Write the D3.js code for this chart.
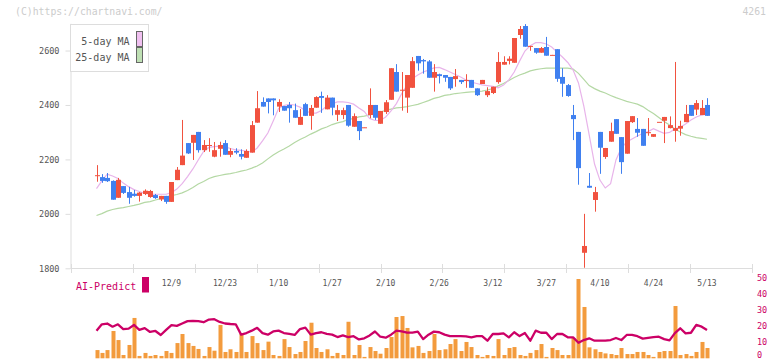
<!DOCTYPE html>
<html>
<head>
<meta charset="utf-8">
<script src="https://cdn.jsdelivr.net/npm/d3@7"></script>
<style>
  body { margin: 0; background: #fff; }
  text { font-family: "DejaVu Sans Mono", monospace; }
</style>
</head>
<body>
<div id="chart"></div>
<script>
// daily candles, 2024/11/19 .. 2025/5/13 (index 0..114)
const open = [2140,2135,2132,2121,2059,2102,2080,2074,2066,2073,2062,2069,2053,2066,2044,2124,2179,2260,2261,2301,2234,2252,
  2210,2239,2260,2217,2231,2220,2206,2225,2335,2411,2424,2424,2394,2396,2400,2381,2327,2403,2360,2390,2433,2384,2427,2364,2363,2400,2320,2341,2317,2363,2400,2331,2374,2419,2521,2455,2427,2463,2580,2565,2560,2500,2513,2510,2503,2495,2492,2491,2492,2461,2477,2436,2444,2484,2548,2562,2555,2657,2690,2616,2609,2592,2613,2583,2605,2503,2473,2363,2301,1857,2103,2051,2301,2209,2265,2348,2282,2221,2337,2312,2312,2299,2283,2337,2342,2315,2305,2313,2337,2400,2383,2363,2400];
const high = [2179,2146,2150,2123,2132,2102,2099,2088,2080,2090,2088,2073,2066,2066,2117,2172,2345,2260,2290,2301,2271,2278,
  2264,2265,2271,2241,2241,2237,2237,2341,2451,2428,2424,2424,2421,2396,2411,2405,2385,2408,2400,2432,2449,2436,2427,2400,2390,2400,2369,2341,2318,2461,2400,2378,2418,2535,2550,2521,2510,2576,2580,2569,2565,2550,2515,2510,2503,2532,2492,2513,2492,2461,2492,2465,2467,2594,2579,2579,2646,2690,2697,2617,2609,2613,2650,2584,2605,2535,2477,2400,2301,2000,2150,2099,2301,2242,2335,2348,2282,2341,2359,2352,2312,2352,2293,2337,2356,2358,2558,2342,2400,2400,2418,2418,2425];
const low = [2118,2114,2117,2052,2059,2073,2037,2063,2045,2069,2059,2055,2047,2037,2044,2124,2179,2220,2198,2225,2227,2228,
  2208,2210,2217,2208,2219,2200,2206,2225,2335,2394,2369,2362,2374,2379,2335,2353,2327,2360,2309,2390,2371,2384,2362,2341,2348,2320,2320,2271,2317,2351,2345,2331,2367,2419,2449,2379,2371,2463,2526,2515,2500,2449,2479,2485,2455,2467,2477,2463,2463,2433,2477,2429,2440,2478,2548,2549,2555,2643,2614,2599,2588,2592,2581,2583,2485,2430,2430,2271,2107,1802,2096,2008,2147,2202,2265,2294,2147,2221,2334,2283,2250,2287,2283,2337,2260,2314,2265,2287,2337,2360,2363,2363,2360];
const close = [2142,2121,2120,2052,2125,2077,2059,2066,2078,2085,2084,2058,2066,2044,2117,2162,2214,2222,2290,2234,2253,2253,
  2234,2253,2217,2231,2225,2210,2231,2326,2388,2394,2411,2417,2411,2379,2388,2353,2356,2360,2389,2429,2426,2427,2390,2381,2381,2324,2359,2304,2318,2400,2353,2378,2410,2535,2449,2456,2510,2561,2553,2560,2500,2521,2506,2500,2461,2506,2484,2492,2463,2436,2492,2451,2467,2558,2558,2570,2646,2679,2614,2617,2592,2609,2581,2584,2496,2478,2433,2348,2168,1882,2096,2080,2243,2242,2304,2294,2190,2341,2359,2298,2250,2300,2293,2338,2356,2326,2315,2323,2367,2360,2407,2389,2360];

const ma5 = [2093,2121,2146,2139,2130,2113,2100,2089,2082,2075,2072,2072,2072,2072,2078,2091,2111,2137,2165,2198,2229,2244,
  2247,2249,2246,2240,2235,2233,2231,2227,2242,2268,2297,2341,2387,2398,2402,2400,2392,2380,2370,2370,2380,2396,2405,2411,2411,2409,2403,2389,2376,2350,2343,2343,2356,2378,2405,2442,2473,2497,2510,2521,2528,2536,2538,2530,2521,2512,2503,2492,2484,2479,2474,2471,2468,2463,2473,2492,2521,2561,2598,2618,2629,2629,2624,2613,2594,2576,2556,2528,2481,2396,2290,2183,2124,2095,2111,2198,2242,2264,2275,2286,2295,2302,2313,2304,2296,2299,2312,2318,2330,2345,2356,2363,2367];
const ma25 = [1994,2001,2010,2016,2020,2023,2027,2031,2036,2042,2045,2051,2056,2062,2067,2071,2077,2086,2097,2110,2119,2130,
  2137,2141,2145,2148,2152,2157,2161,2168,2176,2187,2202,2216,2228,2238,2249,2262,2273,2282,2293,2302,2312,2319,2328,2334,2339,2347,2350,2356,2359,2363,2369,2374,2380,2385,2389,2391,2394,2398,2402,2409,2416,2424,2429,2435,2438,2442,2444,2446,2448,2449,2451,2455,2460,2470,2479,2490,2501,2510,2517,2525,2530,2533,2535,2535,2535,2535,2535,2532,2516,2494,2471,2460,2451,2444,2435,2427,2420,2413,2408,2403,2394,2381,2369,2354,2339,2326,2312,2301,2291,2285,2280,2277,2274];

const volume = [4.8,3.0,4.8,16.8,11.1,1.7,8.0,25.0,1.1,3.0,1.1,1.7,1.1,4.2,3.0,9.2,14.9,9.2,7.4,5.5,1.1,6.7,
  4.4,20.6,3.6,5.3,3.6,14.9,3.6,13.6,9.2,4.8,10.1,1.7,1.1,11.7,6.7,2.3,3.6,10.5,22.0,6.1,3.6,5.3,1.1,3.0,1.7,22.6,1.7,8.0,0.5,6.7,4.2,2.5,6.1,13.0,25.6,26.2,18.7,6.5,7.4,3.0,4.2,14.9,4.8,5.3,8.6,11.7,4.2,9.9,6.7,1.7,0.5,1.7,1.1,11.7,1.7,6.1,6.7,1.7,1.1,3.0,4.8,8.6,0.5,6.1,4.8,1.7,1.7,12.4,49.5,31.9,6.5,5.3,3.6,2.7,2.3,1.7,6.1,2.3,2.3,3.6,3.6,1.7,0.5,3.6,4.2,4.2,32.5,1.7,2.3,1.1,3.6,9.9,6.1];
const aiPredict = [17.0,21.0,21.5,19.5,21.0,18.0,18.3,20.6,17.5,18.6,16.2,16.8,14.3,17.5,20.5,20.0,21.5,23.0,23.2,23.0,22.3,24.0,
  24.2,22.5,21.5,21.2,21.0,14.5,15.5,17.0,18.8,15.5,14.5,16.5,17.0,15.5,15.0,14.3,18.0,18.9,14.5,15.5,16.0,15.0,14.5,13.0,14.0,13.0,13.5,11.5,12.2,14.0,16.5,13.2,12.6,14.5,17.0,16.6,15.8,15.8,16.4,11.7,14.5,16.4,16.0,14.5,13.6,13.6,13.6,13.4,12.8,13.6,13.6,10.7,14.9,14.9,15.3,12.8,16.0,13.6,15.5,10.7,17.0,15.7,15.7,11.7,14.9,14.9,12.8,12.8,9.4,11.1,12.2,10.7,10.7,10.7,11.1,12.4,11.1,14.3,14.3,13.5,12.0,12.5,13.0,13.2,11.7,10.9,15.5,18.5,15.3,15.7,20.6,19.5,17.4];

const tickLabels = ["12/9","12/23","1/10","1/27","2/10","2/26","3/12","3/27","4/10","4/24","5/13"];
const tickIndex = [14,24,34,44,54,64,74,84,94,104,114];
const priceTicks = [1800,2000,2200,2400,2600];
const aiTicks = [0,10,20,30,40,50];

const up = "#f1523f", down = "#4080f0", grid = "#dddddd", label = "#555555", magenta = "#cc0066";

const svg = d3.select("#chart").append("svg")
  .attr("width", 772).attr("height", 361);

const x = d3.scaleLinear().domain([0, close.length - 1]).range([96.5, 707]);
const y = d3.scaleLinear().domain([1800, 2700]).range([268.3, 23.3]);
const yv = d3.scaleLinear().domain([0, 50]).range([357.7, 278.2]);

// watermark
svg.append("text").attr("x", 15).attr("y", 15).attr("font-size", 9.8).attr("fill", "#cccccc")
  .text("(C)https://chartnavi.com/");
svg.append("text").attr("x", 766).attr("y", 15).attr("font-size", 9.8).attr("fill", "#cccccc")
  .attr("text-anchor", "end").text("4261");

// left axis
const ax = svg.append("g").attr("transform", "translate(70.5,0)")
  .call(d3.axisLeft(y).tickValues(priceTicks).tickFormat(d3.format("d"))
    .tickSize(5).tickSizeOuter(0).tickPadding(6));
ax.selectAll("path,line").attr("stroke", grid);
ax.selectAll("text").attr("font-family", "DejaVu Sans Mono").attr("font-size", 8.5).attr("fill", label);

// bottom axis with evenly spaced ticks
const gx = svg.append("g");
gx.append("line").attr("x1", 70.5).attr("x2", 752.5).attr("y1", 268.5).attr("y2", 268.5).attr("stroke", grid);
const tk = d3.scaleLinear().domain([0, 11]).range([70.7, 752.3]);
gx.selectAll(".tk").data(d3.range(12)).join("line")
  .attr("x1", d => Math.round(tk(d)) + 0.5).attr("x2", d => Math.round(tk(d)) + 0.5)
  .attr("y1", 264).attr("y2", 273).attr("stroke", grid);
gx.selectAll(".lb").data(tickIndex).join("text")
  .attr("x", d => x(d)).attr("y", 286).attr("text-anchor", "middle")
  .attr("font-size", 8).attr("fill", label)
  .text((d, i) => tickLabels[i]);

// moving averages
const line = d3.line().x((d, i) => x(i)).y(d => y(d));
svg.append("path").datum(ma25).attr("d", line).attr("fill", "none").attr("stroke", "#b4d8a4").attr("stroke-width", 1.2);
svg.append("path").datum(ma5).attr("d", line).attr("fill", "none").attr("stroke", "#e8b4ea").attr("stroke-width", 1.2);

// candles
const idx = d3.range(close.length);
const cg = svg.append("g");
cg.selectAll(".wick").data(idx).join("line")
  .attr("x1", i => Math.round(x(i)) + 0.5).attr("x2", i => Math.round(x(i)) + 0.5)
  .attr("y1", i => y(high[i])).attr("y2", i => y(low[i]))
  .attr("stroke", i => close[i] >= open[i] ? up : down).attr("stroke-width", 1);
cg.selectAll(".body").data(idx).join("rect")
  .attr("x", i => Math.round(x(i)) - 2)
  .attr("width", 5)
  .attr("y", i => y(Math.max(open[i], close[i])))
  .attr("height", i => Math.max(1, Math.abs(y(open[i]) - y(close[i]))))
  .attr("fill", i => close[i] >= open[i] ? up : down);

// legend
const lg = svg.append("g");
lg.append("rect").attr("x", 70.5).attr("y", 24.5).attr("width", 78).attr("height", 47)
  .attr("fill", "#fff").attr("stroke", grid);
[["5-day MA", "#f0c0f0", 45], ["25-day MA", "#bfe0b4", 61]].forEach(([t, c, yy]) => {
  lg.append("text").attr("x", 129.5).attr("y", yy).attr("text-anchor", "end")
    .attr("font-size", 10).attr("fill", label).text(t);
  lg.append("rect").attr("x", 136.5).attr("y", yy - 13.5).attr("width", 6).attr("height", 15)
    .attr("fill", c).attr("stroke", "#666");
});

// lower panel: volume + AI-Predict
svg.append("g").selectAll("rect").data(volume).join("rect")
  .attr("x", (d, i) => Math.round(x(i)) - 1.5).attr("width", 4)
  .attr("y", d => yv(d)).attr("height", d => yv(0) - yv(d) + 0.6)
  .attr("fill", "#f39b3d");
svg.append("path").datum(aiPredict)
  .attr("d", d3.line().x((d, i) => x(i)).y(d => yv(d)))
  .attr("fill", "none").attr("stroke", magenta).attr("stroke-width", 2.3).attr("stroke-linejoin", "round");

svg.append("g").selectAll("text").data(aiTicks).join("text")
  .attr("x", 757).attr("y", d => Math.min(yv(d), 355.5)).attr("dy", "0.35em")
  .attr("font-size", 8.5).attr("fill", magenta).text(d => d);

svg.append("text").attr("x", 76).attr("y", 290).attr("font-size", 10).attr("fill", magenta).text("AI-Predict");
svg.append("rect").attr("x", 142).attr("y", 277).attr("width", 7).attr("height", 15.5).attr("fill", magenta);
</script>
</body>
</html>
